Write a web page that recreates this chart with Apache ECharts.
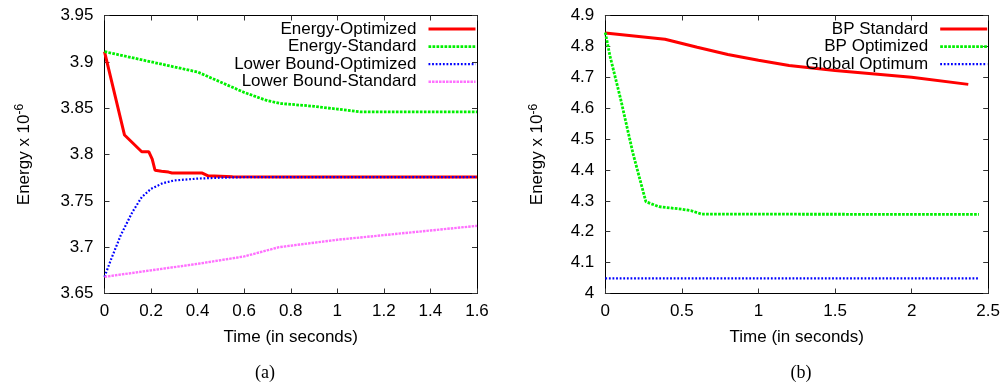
<!DOCTYPE html>
<html>
<head>
<meta charset="utf-8">
<script src="https://cdn.jsdelivr.net/npm/echarts@6/dist/echarts.min.js"></script>
<style>
  html, body { margin: 0; padding: 0; background: #fff; }
  #chart { width: 1003px; height: 386px; }
</style>
</head>
<body>
<div id="chart"></div>
<script>
// (a) energy vs time
const timeEnergyOpt = [0, 0.086, 0.16, 0.19, 0.205, 0.217, 0.245, 0.275, 0.29, 0.42, 0.445, 0.55, 0.8, 1.6];
const energyOpt = [3.911, 3.821, 3.803, 3.803, 3.795, 3.783, 3.782, 3.781, 3.780, 3.780, 3.777, 3.776, 3.7757, 3.7757];

const timeEnergyStd = [0, 0.2, 0.4, 0.5, 0.6, 0.7, 0.76, 0.9, 1.0, 1.1, 1.6];
const energyStd = [3.911, 3.900, 3.889, 3.878, 3.867, 3.858, 3.855, 3.852, 3.849, 3.846, 3.846];

const timeLowerOpt = [0, 0.03, 0.07, 0.12, 0.16, 0.2, 0.25, 0.3, 0.4, 0.5, 0.6, 1.6];
const lowerOpt = [3.668, 3.688, 3.713, 3.738, 3.754, 3.763, 3.769, 3.772, 3.774, 3.775, 3.7755, 3.7757];

const timeLowerStd = [0, 0.2, 0.4, 0.6, 0.75, 1.0, 1.2, 1.4, 1.6];
const lowerStd = [3.668, 3.675, 3.682, 3.690, 3.700, 3.708, 3.713, 3.718, 3.723];

// (b) BP
const timeBpStd = [0, 0.39, 0.6, 0.8, 1.0, 1.2, 1.5, 2.0, 2.37];
const bpStd = [4.843, 4.823, 4.797, 4.774, 4.755, 4.738, 4.722, 4.700, 4.677];

const timeBpOpt = [0, 0.03, 0.1, 0.18, 0.265, 0.35, 0.5, 0.56, 0.63, 2.44];
const bpOpt = [4.845, 4.77, 4.63, 4.455, 4.297, 4.281, 4.273, 4.268, 4.257, 4.256];

const timeGlobal = [0, 2.44];
const globalOpt = [4.049, 4.049];

const namesA = ["Energy-Optimized", "Energy-Standard", "Lower Bound-Optimized", "Lower Bound-Standard"];
const namesB = ["BP Standard", "BP Optimized", "Global Optimum"];

const zip = (xs, ys) => xs.map((x, i) => [x, ys[i]]);

const FONT = "Liberation Sans";
const labelStyle = { color: "#000", fontSize: 17, fontFamily: FONT };

function valueAxis(gridIndex, position, min, max, interval, showLabel, extra) {
  return Object.assign({
    type: "value",
    gridIndex,
    position,
    min,
    max,
    interval,
    splitLine: { show: false },
    axisLine: { show: true, onZero: false, lineStyle: { color: "#000", width: 1 } },
    axisTick: { show: true, inside: true, length: 5, lineStyle: { color: "#333" } },
    axisLabel: Object.assign({ show: showLabel }, labelStyle),
  }, extra || {});
}

const yName = "Energy x 10{sup|-6}";
const yNameStyle = {
  color: "#000",
  fontSize: 17,
  fontFamily: FONT,
  rich: { sup: { fontSize: 12, fontFamily: FONT, color: "#000", padding: [0, 0, 9, 0] } },
};

function line(name, data, xi, yi, color, width, dash) {
  return {
    name,
    type: "line",
    xAxisIndex: xi,
    yAxisIndex: yi,
    data,
    symbol: "none",
    showSymbol: false,
    lineStyle: { color, width, type: dash || "solid" },
    itemStyle: { color },
  };
}

function legend(names, right) {
  return {
    data: names,
    orient: "vertical",
    align: "right",
    right,
    top: 20.5,
    padding: 0,
    itemWidth: 47,
    itemHeight: 10,
    itemGap: 0.6,
    itemStyle: { opacity: 0 },
    lineStyle: { width: "inherit" },
    textStyle: { color: "#000", fontSize: 17, fontFamily: FONT, lineHeight: 17, padding: [0, 7, 0, 0] },
  };
}

const chart = echarts.init(document.getElementById("chart"));

const option = {
  animation: false,
  backgroundColor: "#fff",
  title: [
    { text: "(a)", left: 260, top: 359, textAlign: "center",
      textStyle: { fontFamily: "Liberation Serif", fontSize: 18, fontWeight: "normal", color: "#000" } },
    { text: "(b)", left: 796, top: 359, textAlign: "center",
      textStyle: { fontFamily: "Liberation Serif", fontSize: 18, fontWeight: "normal", color: "#000" } },
  ],
  legend: [legend(namesA, 526), legend(namesB, 14.3)],
  grid: [
    { left: 104.5, top: 15.5, right: 526, bottom: 92.5 },
    { left: 605.3, top: 15.5, right: 14.3, bottom: 92.5 },
  ],
  xAxis: [
    valueAxis(0, "bottom", 0, 1.6, 0.2, true, {
      name: "Time (in seconds)", nameLocation: "middle", nameGap: 35,
      nameTextStyle: { color: "#000", fontSize: 17, fontFamily: FONT },
      axisLabel: Object.assign({ show: true, margin: 9 }, labelStyle),
    }),
    valueAxis(0, "top", 0, 1.6, 0.2, false),
    valueAxis(1, "bottom", 0, 2.5, 0.5, true, {
      name: "Time (in seconds)", nameLocation: "middle", nameGap: 35,
      nameTextStyle: { color: "#000", fontSize: 17, fontFamily: FONT },
      axisLabel: Object.assign({ show: true, margin: 9 }, labelStyle),
    }),
    valueAxis(1, "top", 0, 2.5, 0.5, false),
  ],
  yAxis: [
    valueAxis(0, "left", 3.65, 3.95, 0.05, true, {
      name: yName, nameLocation: "middle", nameGap: 70, nameTextStyle: yNameStyle,
      axisLabel: Object.assign({ show: true, margin: 11 }, labelStyle),
    }),
    valueAxis(0, "right", 3.65, 3.95, 0.05, false),
    valueAxis(1, "left", 4, 4.9, 0.1, true, {
      name: yName, nameLocation: "middle", nameGap: 57, nameTextStyle: yNameStyle,
      axisLabel: Object.assign({ show: true, margin: 11 }, labelStyle),
    }),
    valueAxis(1, "right", 4, 4.9, 0.1, false),
  ],
  series: [
    line(namesA[0], zip(timeEnergyOpt, energyOpt), 0, 0, "#ff0000", 3),
    line(namesA[1], zip(timeEnergyStd, energyStd), 0, 0, "#00f000", 2.8, [2.7, 1.3]),
    line(namesA[2], zip(timeLowerOpt, lowerOpt), 0, 0, "#0000ff", 2.2, [1.8, 1.8]),
    line(namesA[3], zip(timeLowerStd, lowerStd), 0, 0, "#ff70ff", 2.4, [2.5, 1]),
    line(namesB[0], zip(timeBpStd, bpStd), 2, 2, "#ff0000", 3),
    line(namesB[1], zip(timeBpOpt, bpOpt), 2, 2, "#00f000", 2.8, [2.7, 1.3]),
    line(namesB[2], zip(timeGlobal, globalOpt), 2, 2, "#0000ff", 2.2, [1.8, 1.8]),
  ],
};

chart.setOption(option);
window.addEventListener("resize", () => chart.resize());
</script>
</body>
</html>
